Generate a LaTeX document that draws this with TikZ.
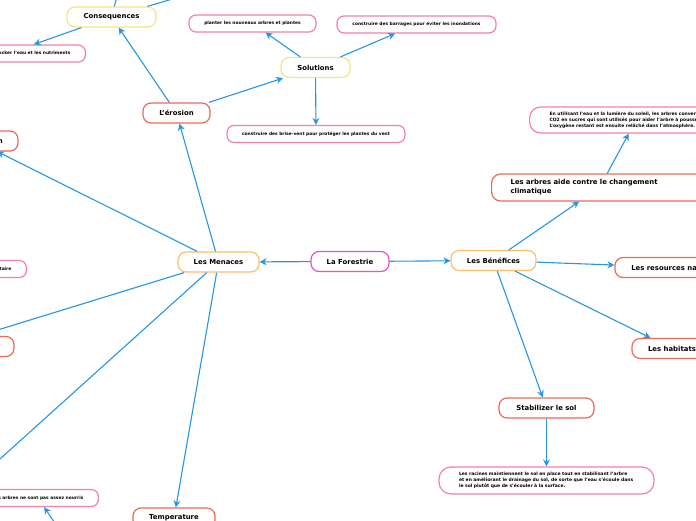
\documentclass[tikz,border=0pt]{standalone}
\usepackage{fontspec}
\setmainfont{DejaVu Sans}
\usetikzlibrary{arrows.meta}
\definecolor{linkblue}{RGB}{36,150,226}
\definecolor{rootmag}{RGB}{226,84,204}
\definecolor{branchorange}{RGB}{255,188,110}
\definecolor{topicred}{RGB}{238,104,86}
\definecolor{subyellow}{RGB}{248,228,120}
\definecolor{leafpink}{RGB}{244,128,168}
\newcommand{\bigtxt}{\fontsize{6.9}{9}\selectfont\bfseries}
\newcommand{\smalltxt}{\fontsize{4.4}{6}\selectfont\bfseries}
\newcommand{\tinytxt}{\fontsize{4.5}{5.8}\selectfont\bfseries}

\begin{document}
\begin{tikzpicture}[x=1pt,y=-1pt,line width=1.1pt,
  box/.style={draw,fill=white,rounded corners=8pt,line width=1.2pt,minimum height=20pt,inner ysep=2pt,font=\bigtxt},
  root/.style={box,draw=rootmag},
  branch/.style={box,draw=branchorange},
  topic/.style={box,draw=topicred},
  sub/.style={box,draw=subyellow},
  leaf/.style={box,draw=leafpink,minimum height=17pt,rounded corners=7pt,font=\smalltxt,inner xsep=15pt},
  link/.style={draw=linkblue,line width=1.1pt,-{Stealth[length=7pt,width=7pt]}}]
\useasboundingbox (0,0) rectangle (696,520);
\clip (0,0) rectangle (696,520);
\node[root,minimum width=78pt] (forestrie) at (350,261.5) {La Forestrie};
\node[branch,minimum width=81pt] (menaces) at (218.5,262) {Les Menaces};
\node[branch,minimum width=85pt] (benefices) at (493.5,260.5) {Les Bénéfices};
\node[topic,minimum width=67pt] (erosion) at (176.5,113) {L'érosion};
\node[sub,minimum width=89pt] (consequences) at (111.5,17) {Consequences};
\node[sub,minimum width=69pt] (solutions) at (315.5,67.5) {Solutions};
\node[leaf,minimum width=127pt] (planter) at (252.5,23.5) {planter les nouveaux arbres et plantes};
\node[leaf,minimum width=159pt] (barrages) at (416.5,24.5) {construire des barrages pour éviter les inondations};
\node[leaf,minimum width=178pt] (brisevent) at (316,134) {construire des brise-vent pour protéger les plantes du vent};
\node[leaf,anchor=east] (stocker) at (86,53.5) {Le sol ne peut plus stocker l'eau et les nutriments};
\node[topic,minimum width=84pt] (deforestation) at (-24,141) {Déforestation};
\node[leaf,anchor=east] (alimentaire) at (27,269) {sécurité alimentaire};
\node[topic,minimum width=140pt] (gauche) at (-56,346.5) {};
\node[leaf,anchor=east] (nourris) at (99,498) {Les arbres ne sont pas assez nourris};
\node[topic,minimum width=82pt] (temperature) at (174,518) {Temperature};
\node[topic,align=left,text width=178pt,inner xsep=19pt,minimum height=27pt,rounded corners=9pt,anchor=west] (climat) at (491,187.5) {Les arbres aide contre le changement\\climatique};
\node[leaf,font=\tinytxt,align=left,text width=173pt,inner xsep=20pt,minimum height=26pt,rounded corners=11pt,anchor=west] (photosynthese) at (529,120) {En utilisant l'eau et la lumière du soleil, les arbres convertissent le\\CO2 en sucres qui sont utilisés pour aider l'arbre à pousser.\\L'oxygène restant est ensuite relâché dans l'atmosphère.};
\node[topic,minimum width=128pt] (ressources) at (679,267.5) {Les resources naturelles};
\node[topic,minimum width=80pt] (habitats) at (672,348.5) {Les habitats};
\node[topic,minimum width=95pt] (stabiliser) at (546.5,408) {Stabilizer le sol};
\node[leaf,font=\tinytxt,align=left,text width=175pt,inner xsep=20pt,minimum height=27pt,rounded corners=12pt] (racines) at (546.5,480.5) {Les racines maintiennent le sol en place tout en stabilisant l'arbre\\et en améliorant le drainage du sol, de sorte que l'eau s'écoule dans\\le sol plutôt que de s'écouler à la surface.};
\coordinate (cq1) at (120,-15);
\coordinate (cq2) at (230,-18);
\coordinate (sudouest) at (-40,495);
\coordinate (sousnourris) at (63,535);
\draw[link] (forestrie) -- (menaces);
\draw[link] (forestrie) -- (benefices);
\draw[link] (menaces) -- (erosion);
\draw[link] (menaces) -- (deforestation);
\draw[link] (menaces) -- (gauche);
\draw[link] (menaces) -- (sudouest);
\draw[link] (menaces) -- (temperature);
\draw[link] (erosion) -- (consequences);
\draw[link] (erosion) -- (solutions);
\draw[link] (solutions) -- (planter);
\draw[link] (solutions) -- (barrages);
\draw[link] (solutions) -- (brisevent);
\draw[link] (consequences) -- (stocker);
\draw[link] (consequences) -- (cq1);
\draw[link] (consequences) -- (cq2);
\draw[link] (benefices) -- (climat);
\draw[link] (climat) -- (photosynthese);
\draw[link] (benefices) -- (ressources);
\draw[link] (benefices) -- (habitats);
\draw[link] (benefices) -- (stabiliser);
\draw[link] (stabiliser) -- (racines);
\draw[link] (sousnourris) -- (nourris);
\end{tikzpicture}
\end{document}
